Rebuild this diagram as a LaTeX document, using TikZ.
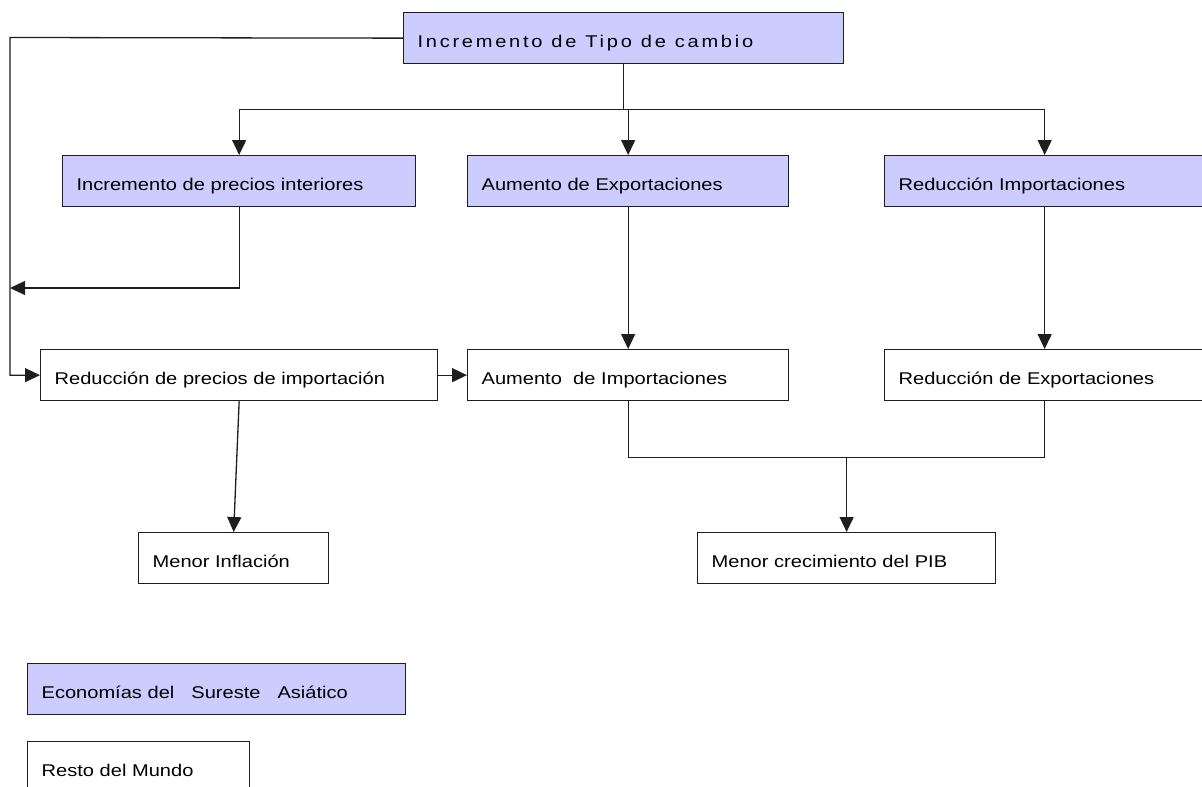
\documentclass[tikz,border=0pt]{standalone}
\usepackage{fontspec}
\setmainfont{Liberation Sans}[FakeStretch=1.18]
\newfontfamily\spacedfont{Liberation Sans}[FakeStretch=1.18,LetterSpace=16]
\newcommand{\wgap}{\hspace{9pt}}
\usepackage{tikz}
\usetikzlibrary{arrows.meta}
\definecolor{econblue}{RGB}{204,204,255}
\definecolor{boxline}{RGB}{30,30,30}
\tikzset{econbox/.style={draw=boxline, line width=1.3pt, anchor=north west, minimum height=51pt, inner xsep=14pt, inner ysep=0pt, text height=19pt, text depth=0pt, align=left, font=\fontsize{17}{20}\selectfont},
  asiabox/.style={econbox, fill=econblue},
  link/.style={draw=boxline, line width=1.3pt},
  flowarrow/.style={link, -{Triangle[length=15pt,width=14pt]}}}

\begin{document}
\begin{tikzpicture}[x=1pt, y=-1pt]
\useasboundingbox (0,0) rectangle (1202,787);
\clip (0,0) rectangle (1202,787);
\node[asiabox, text width=412pt, font=\fontsize{17}{20}\spacedfont] (top) at (403,12) {Incremento\wgap de\wgap Tipo\wgap de\wgap cambio};
\node[asiabox, text width=325pt] (prec) at (62,155) {Incremento de precios interiores};
\node[asiabox, text width=293pt] (aexp) at (467,155) {Aumento de Exportaciones};
\node[asiabox, text width=292pt] (rimp) at (884,155) {Reducción Importaciones};
\node[econbox, text width=369pt] (rpre) at (40,349) {Reducción de precios de importación};
\node[econbox, text width=293pt] (aimp) at (467,349) {Aumento~~de Importaciones};
\node[econbox, text width=292pt] (rexp) at (884,349) {Reducción de Exportaciones};
\node[econbox, text width=162pt] (infl) at (138,532) {Menor Inflación};
\node[econbox, text width=270pt] (pib) at (697,532) {Menor crecimiento del PIB};
% legend
\node[asiabox, text width=350pt] (asia) at (27,663) {Economías del~~~Sureste~~~Asiático};
\node[econbox, text width=194pt] (resto) at (27,741) {Resto del Mundo};
% connectors
\path (top.south) ++(0,45) coordinate (split);
\path (aimp.south) ++(0,56) coordinate (merge);
\coordinate (joinL) at (10,288);
\draw[flowarrow] (top.west) -- (10,37.5) |- (rpre.west);
\draw[flowarrow] (prec.south) |- (joinL);
\draw[link] (top.south) -- (split);
\draw[link] (prec.north |- split) -- (rimp.north |- split);
\foreach \n in {prec,aexp,rimp}
  \draw[flowarrow] (\n.north |- split) -- (\n.north);
\draw[flowarrow] (aexp.south) -- (aimp.north);
\draw[flowarrow] (rimp.south) -- (rexp.north);
\draw[flowarrow] (rpre.east) -- (aimp.west);
\draw[flowarrow] (rpre.south) -- (infl.north);
\draw[link] (aimp.south) |- (rexp.south |- merge) -- (rexp.south);
\draw[flowarrow] (pib.north |- merge) -- (pib.north);
\end{tikzpicture}
\end{document}
